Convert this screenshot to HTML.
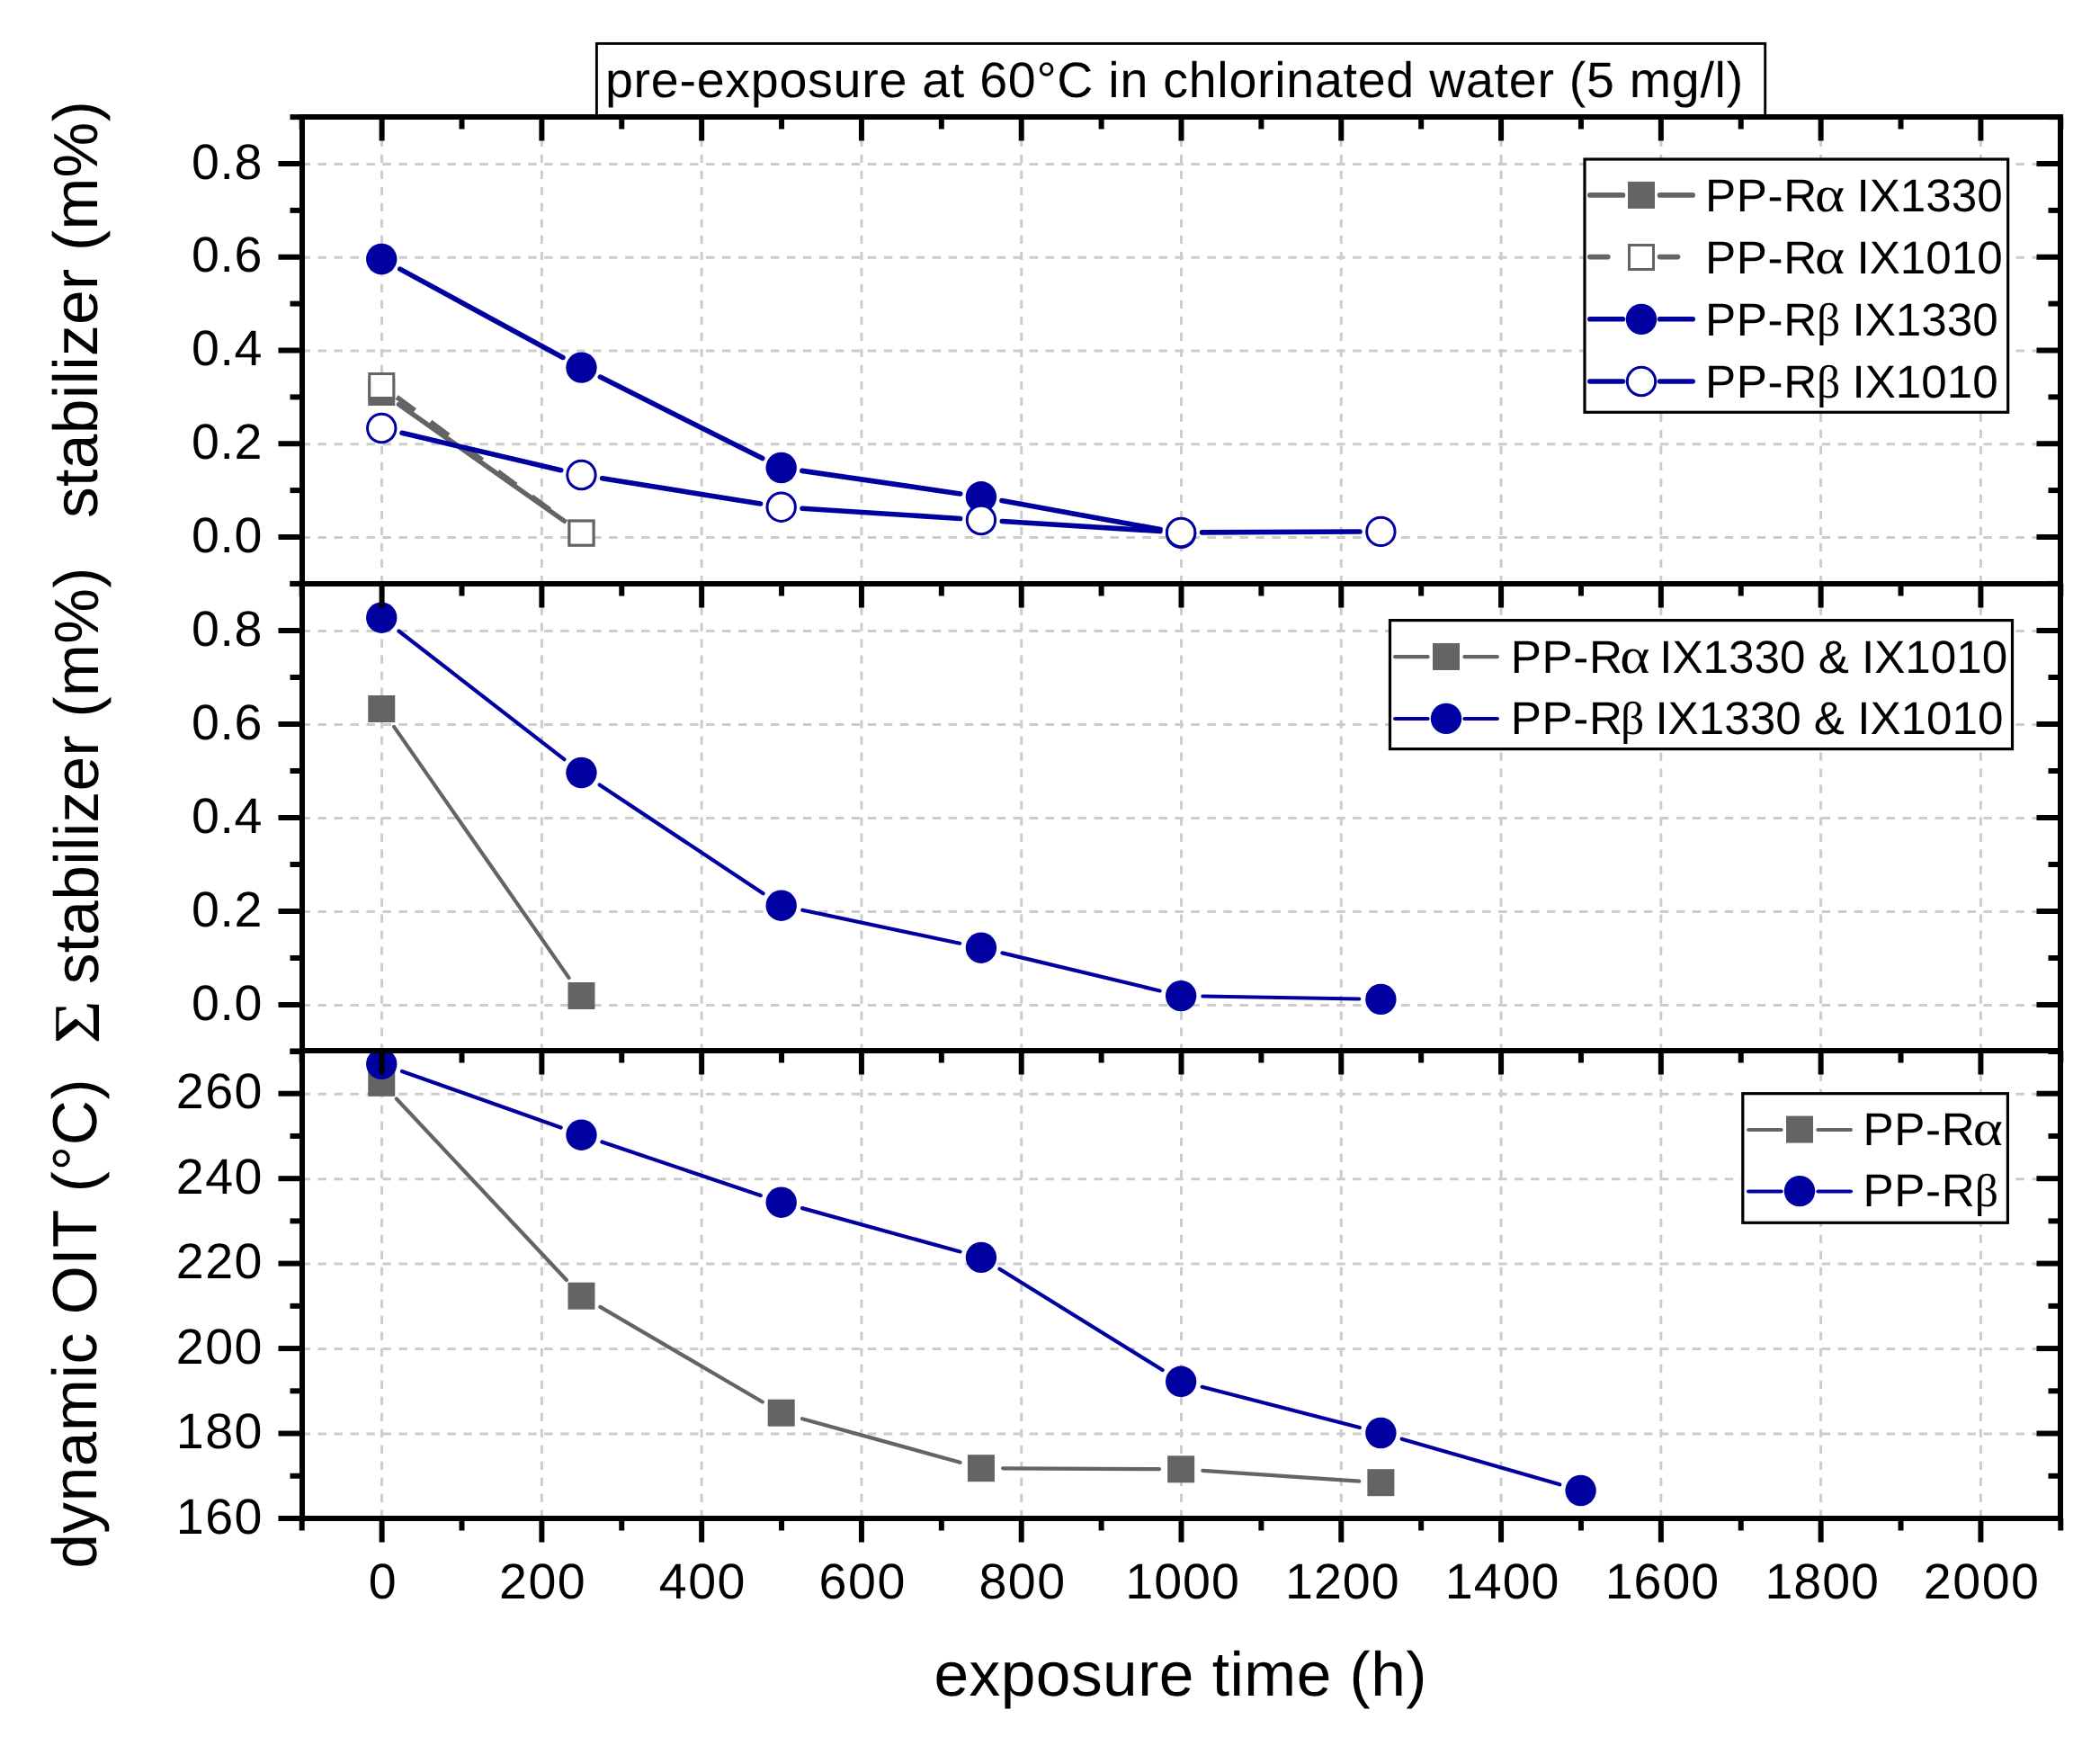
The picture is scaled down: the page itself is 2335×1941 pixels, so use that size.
<!DOCTYPE html>
<html lang="en"><head><meta charset="utf-8"><title>pre-exposure at 60°C in chlorinated water</title>
<style>html,body{margin:0;padding:0;background:#fff}body{width:2335px;height:1941px;overflow:hidden}svg{display:block}</style>
</head><body>
<svg width="2335" height="1941" viewBox="0 0 2335 1941" style="display:block" text-rendering="geometricPrecision">
<rect width="2335" height="1941" fill="#fff"/>
<g stroke="#cccccc" stroke-width="3" fill="none"><path d="M424.6 649V130" stroke-dasharray="9.2 8.8"/><path d="M602.38 649V130" stroke-dasharray="9.2 8.8"/><path d="M780.16 649V130" stroke-dasharray="9.2 8.8"/><path d="M957.94 649V130" stroke-dasharray="9.2 8.8"/><path d="M1135.72 649V130" stroke-dasharray="9.2 8.8"/><path d="M1313.5 649V130" stroke-dasharray="9.2 8.8"/><path d="M1491.28 649V130" stroke-dasharray="9.2 8.8"/><path d="M1669.06 649V130" stroke-dasharray="9.2 8.8"/><path d="M1846.84 649V130" stroke-dasharray="9.2 8.8"/><path d="M2024.62 649V130" stroke-dasharray="9.2 8.8"/><path d="M2202.4 649V130" stroke-dasharray="9.2 8.8"/><path d="M335.5 597.5H2291" stroke-dasharray="9.5 8.48"/><path d="M335.5 493.75H2291" stroke-dasharray="9.5 8.48"/><path d="M335.5 390H2291" stroke-dasharray="9.5 8.48"/><path d="M335.5 286.25H2291" stroke-dasharray="9.5 8.48"/><path d="M335.5 182.5H2291" stroke-dasharray="9.5 8.48"/></g>
<g stroke="#646464" stroke-width="5.4" stroke-linecap="round" fill="none"><path d="M443.38 449.48L627.35 579.12"/></g>
<rect x="409.25" y="421" width="30" height="30" fill="#646464"/><rect x="631.48" y="577.6" width="30" height="30" fill="#646464"/>
<g stroke="#646464" stroke-width="5.6" stroke-linecap="butt" fill="none" stroke-dasharray="25 21.6"><path d="M441.16 441.45L629.56 580.15"/></g>
<rect x="410.75" y="415.5" width="27" height="27" fill="#fff" stroke="#646464" stroke-width="3"/><rect x="632.98" y="579.1" width="27" height="27" fill="#fff" stroke="#646464" stroke-width="3"/>
<g stroke="#0000a0" stroke-width="5.6" stroke-linecap="round" fill="none"><path d="M444.82 299.16L625.91 397.44"/><path d="M667.39 419.09L847.78 509.51"/><path d="M891.86 523.37L1067.77 548.93"/><path d="M1113.95 556.5L1290.13 588.6"/></g>
<circle cx="424.25" cy="288" r="17.2" fill="#0000a0"/><circle cx="646.48" cy="408.6" r="17.2" fill="#0000a0"/><circle cx="868.7" cy="520" r="17.2" fill="#0000a0"/><circle cx="1090.93" cy="552.3" r="17.2" fill="#0000a0"/><circle cx="1313.15" cy="592.8" r="17.2" fill="#0000a0"/>
<g stroke="#0000a0" stroke-width="5.6" stroke-linecap="round" fill="none"><path d="M447.03 481.33L623.69 522.67"/><path d="M669.58 531.71L845.6 559.99"/><path d="M892.05 565.2L1067.57 576.5"/><path d="M1114.28 579.47L1289.8 590.53"/><path d="M1336.55 591.88L1511.98 591.02"/></g>
<circle cx="424.25" cy="476" r="15.7" fill="#fff" stroke="#0000a0" stroke-width="3"/><circle cx="646.48" cy="528" r="15.7" fill="#fff" stroke="#0000a0" stroke-width="3"/><circle cx="868.7" cy="563.7" r="15.7" fill="#fff" stroke="#0000a0" stroke-width="3"/><circle cx="1090.93" cy="578" r="15.7" fill="#fff" stroke="#0000a0" stroke-width="3"/><circle cx="1313.15" cy="592" r="15.7" fill="#fff" stroke="#0000a0" stroke-width="3"/><circle cx="1535.38" cy="590.9" r="15.7" fill="#fff" stroke="#0000a0" stroke-width="3"/>
<g stroke="#cccccc" stroke-width="3" fill="none"><path d="M424.6 1169.7V649" stroke-dasharray="9.2 8.8"/><path d="M602.38 1169.7V649" stroke-dasharray="9.2 8.8"/><path d="M780.16 1169.7V649" stroke-dasharray="9.2 8.8"/><path d="M957.94 1169.7V649" stroke-dasharray="9.2 8.8"/><path d="M1135.72 1169.7V649" stroke-dasharray="9.2 8.8"/><path d="M1313.5 1169.7V649" stroke-dasharray="9.2 8.8"/><path d="M1491.28 1169.7V649" stroke-dasharray="9.2 8.8"/><path d="M1669.06 1169.7V649" stroke-dasharray="9.2 8.8"/><path d="M1846.84 1169.7V649" stroke-dasharray="9.2 8.8"/><path d="M2024.62 1169.7V649" stroke-dasharray="9.2 8.8"/><path d="M2202.4 1169.7V649" stroke-dasharray="9.2 8.8"/><path d="M335.5 1117.5H2291" stroke-dasharray="9.5 8.48"/><path d="M335.5 1013.5H2291" stroke-dasharray="9.5 8.48"/><path d="M335.5 909.5H2291" stroke-dasharray="9.5 8.48"/><path d="M335.5 805.5H2291" stroke-dasharray="9.5 8.48"/><path d="M335.5 701.5H2291" stroke-dasharray="9.5 8.48"/></g>
<g stroke="#646464" stroke-width="4.2" stroke-linecap="round" fill="none"><path d="M438.08 807.86L632.64 1087.14"/></g>
<rect x="409.25" y="773" width="30" height="30" fill="#646464"/><rect x="631.48" y="1092" width="30" height="30" fill="#646464"/>
<g stroke="#0000a0" stroke-width="4.2" stroke-linecap="round" fill="none"><path d="M443.37 701.53L627.35 844.17"/><path d="M666.63 872.4L848.55 993.3"/><path d="M892.38 1011.71L1067.25 1048.69"/><path d="M1114.46 1059.35L1289.62 1101.45"/><path d="M1337.35 1107.51L1511.18 1110.49"/></g>
<circle cx="424.25" cy="686.7" r="17.2" fill="#0000a0"/><circle cx="646.48" cy="859" r="17.2" fill="#0000a0"/><circle cx="868.7" cy="1006.7" r="17.2" fill="#0000a0"/><circle cx="1090.93" cy="1053.7" r="17.2" fill="#0000a0"/><circle cx="1313.15" cy="1107.1" r="17.2" fill="#0000a0"/><circle cx="1535.38" cy="1110.9" r="17.2" fill="#0000a0"/>
<g stroke="#cccccc" stroke-width="3" fill="none"><path d="M424.6 1688V1168" stroke-dasharray="9.2 8.8"/><path d="M602.38 1688V1168" stroke-dasharray="9.2 8.8"/><path d="M780.16 1688V1168" stroke-dasharray="9.2 8.8"/><path d="M957.94 1688V1168" stroke-dasharray="9.2 8.8"/><path d="M1135.72 1688V1168" stroke-dasharray="9.2 8.8"/><path d="M1313.5 1688V1168" stroke-dasharray="9.2 8.8"/><path d="M1491.28 1688V1168" stroke-dasharray="9.2 8.8"/><path d="M1669.06 1688V1168" stroke-dasharray="9.2 8.8"/><path d="M1846.84 1688V1168" stroke-dasharray="9.2 8.8"/><path d="M2024.62 1688V1168" stroke-dasharray="9.2 8.8"/><path d="M2202.4 1688V1168" stroke-dasharray="9.2 8.8"/><path d="M335.5 1594.04H2291" stroke-dasharray="9.5 8.48"/><path d="M335.5 1499.58H2291" stroke-dasharray="9.5 8.48"/><path d="M335.5 1405.12H2291" stroke-dasharray="9.5 8.48"/><path d="M335.5 1310.66H2291" stroke-dasharray="9.5 8.48"/><path d="M335.5 1216.2H2291" stroke-dasharray="9.5 8.48"/></g>
<g stroke="#646464" stroke-width="4.2" stroke-linecap="round" fill="none"><path d="M440.81 1221.45L629.92 1423.05"/><path d="M667.36 1452.92L847.81 1558.48"/><path d="M892.02 1577.15L1067.6 1625.75"/><path d="M1115.12 1632.32L1288.95 1633.18"/><path d="M1337.3 1634.92L1511.23 1646.58"/></g>
<rect x="409.25" y="1188.8" width="30" height="30" fill="#646464"/><rect x="631.48" y="1425.7" width="30" height="30" fill="#646464"/><rect x="853.7" y="1555.7" width="30" height="30" fill="#646464"/><rect x="1075.93" y="1617.2" width="30" height="30" fill="#646464"/><rect x="1298.15" y="1618.3" width="30" height="30" fill="#646464"/><rect x="1520.38" y="1633.2" width="30" height="30" fill="#646464"/>
<g stroke="#0000a0" stroke-width="4.2" stroke-linecap="round" fill="none"><path d="M447.06 1190.9L623.67 1253.6"/><path d="M669.4 1269.44L845.77 1328.96"/><path d="M892.03 1343.13L1067.59 1391.47"/><path d="M1111.49 1410.66L1292.59 1523.04"/><path d="M1336.59 1541.83L1511.94 1586.97"/><path d="M1558.63 1599.7L1734.35 1650.3"/></g>
<circle cx="424.25" cy="1182.8" r="17.2" fill="#0000a0"/><circle cx="646.48" cy="1261.7" r="17.2" fill="#0000a0"/><circle cx="868.7" cy="1336.7" r="17.2" fill="#0000a0"/><circle cx="1090.93" cy="1397.9" r="17.2" fill="#0000a0"/><circle cx="1313.15" cy="1535.8" r="17.2" fill="#0000a0"/><circle cx="1535.38" cy="1593" r="17.2" fill="#0000a0"/><circle cx="1757.6" cy="1657" r="17.2" fill="#0000a0"/>
<g stroke="#000" stroke-width="6" fill="none" stroke-linecap="butt"><path d="M333 130H2294"/><path d="M333 649H2294"/><path d="M336 130V649"/><path d="M2291 130V649"/><path d="M335.71 130v13.5"/><path d="M424.6 130v26.5"/><path d="M513.49 130v13.5"/><path d="M602.38 130v26.5"/><path d="M691.27 130v13.5"/><path d="M780.16 130v26.5"/><path d="M869.05 130v13.5"/><path d="M957.94 130v26.5"/><path d="M1046.83 130v13.5"/><path d="M1135.72 130v26.5"/><path d="M1224.61 130v13.5"/><path d="M1313.5 130v26.5"/><path d="M1402.39 130v13.5"/><path d="M1491.28 130v26.5"/><path d="M1580.17 130v13.5"/><path d="M1669.06 130v26.5"/><path d="M1757.95 130v13.5"/><path d="M1846.84 130v26.5"/><path d="M1935.73 130v13.5"/><path d="M2024.62 130v26.5"/><path d="M2113.51 130v13.5"/><path d="M2202.4 130v26.5"/><path d="M2291.29 130v13.5"/><path d="M336 597h-26.5"/><path d="M2291 597h-26.5"/><path d="M336 493.25h-26.5"/><path d="M2291 493.25h-26.5"/><path d="M336 389.5h-26.5"/><path d="M2291 389.5h-26.5"/><path d="M336 285.75h-26.5"/><path d="M2291 285.75h-26.5"/><path d="M336 182h-26.5"/><path d="M2291 182h-26.5"/><path d="M336 648.88h-13.5"/><path d="M2291 648.88h-13.5"/><path d="M336 545.12h-13.5"/><path d="M2291 545.12h-13.5"/><path d="M336 441.38h-13.5"/><path d="M2291 441.38h-13.5"/><path d="M336 337.62h-13.5"/><path d="M2291 337.62h-13.5"/><path d="M336 233.88h-13.5"/><path d="M2291 233.88h-13.5"/><path d="M336 130.12h-13.5"/><path d="M2291 130.12h-13.5"/></g>
<g stroke="#000" stroke-width="6" fill="none" stroke-linecap="butt"><path d="M333 649H2294"/><path d="M333 1168H2294"/><path d="M336 649V1168"/><path d="M2291 649V1168"/><path d="M335.71 649v13.5"/><path d="M424.6 649v26.5"/><path d="M513.49 649v13.5"/><path d="M602.38 649v26.5"/><path d="M691.27 649v13.5"/><path d="M780.16 649v26.5"/><path d="M869.05 649v13.5"/><path d="M957.94 649v26.5"/><path d="M1046.83 649v13.5"/><path d="M1135.72 649v26.5"/><path d="M1224.61 649v13.5"/><path d="M1313.5 649v26.5"/><path d="M1402.39 649v13.5"/><path d="M1491.28 649v26.5"/><path d="M1580.17 649v13.5"/><path d="M1669.06 649v26.5"/><path d="M1757.95 649v13.5"/><path d="M1846.84 649v26.5"/><path d="M1935.73 649v13.5"/><path d="M2024.62 649v26.5"/><path d="M2113.51 649v13.5"/><path d="M2202.4 649v26.5"/><path d="M2291.29 649v13.5"/><path d="M336 1117h-26.5"/><path d="M2291 1117h-26.5"/><path d="M336 1013h-26.5"/><path d="M2291 1013h-26.5"/><path d="M336 909h-26.5"/><path d="M2291 909h-26.5"/><path d="M336 805h-26.5"/><path d="M2291 805h-26.5"/><path d="M336 701h-26.5"/><path d="M2291 701h-26.5"/><path d="M336 1169h-13.5"/><path d="M2291 1169h-13.5"/><path d="M336 1065h-13.5"/><path d="M2291 1065h-13.5"/><path d="M336 961h-13.5"/><path d="M2291 961h-13.5"/><path d="M336 857h-13.5"/><path d="M2291 857h-13.5"/><path d="M336 753h-13.5"/><path d="M2291 753h-13.5"/><path d="M336 649h-13.5"/><path d="M2291 649h-13.5"/></g>
<g stroke="#000" stroke-width="6" fill="none" stroke-linecap="butt"><path d="M333 1168H2294"/><path d="M333 1688H2294"/><path d="M336 1168V1688"/><path d="M2291 1168V1688"/><path d="M335.71 1168v13.5"/><path d="M335.71 1688v13.5"/><path d="M424.6 1168v26.5"/><path d="M424.6 1688v26.5"/><path d="M513.49 1168v13.5"/><path d="M513.49 1688v13.5"/><path d="M602.38 1168v26.5"/><path d="M602.38 1688v26.5"/><path d="M691.27 1168v13.5"/><path d="M691.27 1688v13.5"/><path d="M780.16 1168v26.5"/><path d="M780.16 1688v26.5"/><path d="M869.05 1168v13.5"/><path d="M869.05 1688v13.5"/><path d="M957.94 1168v26.5"/><path d="M957.94 1688v26.5"/><path d="M1046.83 1168v13.5"/><path d="M1046.83 1688v13.5"/><path d="M1135.72 1168v26.5"/><path d="M1135.72 1688v26.5"/><path d="M1224.61 1168v13.5"/><path d="M1224.61 1688v13.5"/><path d="M1313.5 1168v26.5"/><path d="M1313.5 1688v26.5"/><path d="M1402.39 1168v13.5"/><path d="M1402.39 1688v13.5"/><path d="M1491.28 1168v26.5"/><path d="M1491.28 1688v26.5"/><path d="M1580.17 1168v13.5"/><path d="M1580.17 1688v13.5"/><path d="M1669.06 1168v26.5"/><path d="M1669.06 1688v26.5"/><path d="M1757.95 1168v13.5"/><path d="M1757.95 1688v13.5"/><path d="M1846.84 1168v26.5"/><path d="M1846.84 1688v26.5"/><path d="M1935.73 1168v13.5"/><path d="M1935.73 1688v13.5"/><path d="M2024.62 1168v26.5"/><path d="M2024.62 1688v26.5"/><path d="M2113.51 1168v13.5"/><path d="M2113.51 1688v13.5"/><path d="M2202.4 1168v26.5"/><path d="M2202.4 1688v26.5"/><path d="M2291.29 1168v13.5"/><path d="M2291.29 1688v13.5"/><path d="M336 1688h-26.5"/><path d="M2291 1688h-26.5"/><path d="M336 1593.54h-26.5"/><path d="M2291 1593.54h-26.5"/><path d="M336 1499.08h-26.5"/><path d="M2291 1499.08h-26.5"/><path d="M336 1404.62h-26.5"/><path d="M2291 1404.62h-26.5"/><path d="M336 1310.16h-26.5"/><path d="M2291 1310.16h-26.5"/><path d="M336 1215.7h-26.5"/><path d="M2291 1215.7h-26.5"/><path d="M336 1640.77h-13.5"/><path d="M2291 1640.77h-13.5"/><path d="M336 1546.31h-13.5"/><path d="M2291 1546.31h-13.5"/><path d="M336 1451.85h-13.5"/><path d="M2291 1451.85h-13.5"/><path d="M336 1357.39h-13.5"/><path d="M2291 1357.39h-13.5"/><path d="M336 1262.93h-13.5"/><path d="M2291 1262.93h-13.5"/><path d="M336 1168.47h-13.5"/><path d="M2291 1168.47h-13.5"/></g>
<g fill="#000">
<text x="292.1" y="613.7" font-size="55.56" font-family="'Liberation Sans', sans-serif" text-anchor="end" letter-spacing="0.6">0.0</text>
<text x="292.1" y="509.95" font-size="55.56" font-family="'Liberation Sans', sans-serif" text-anchor="end" letter-spacing="0.6">0.2</text>
<text x="292.1" y="406.2" font-size="55.56" font-family="'Liberation Sans', sans-serif" text-anchor="end" letter-spacing="0.6">0.4</text>
<text x="292.1" y="302.45" font-size="55.56" font-family="'Liberation Sans', sans-serif" text-anchor="end" letter-spacing="0.6">0.6</text>
<text x="292.1" y="198.7" font-size="55.56" font-family="'Liberation Sans', sans-serif" text-anchor="end" letter-spacing="0.6">0.8</text>
<text x="292.1" y="1133.7" font-size="55.56" font-family="'Liberation Sans', sans-serif" text-anchor="end" letter-spacing="0.6">0.0</text>
<text x="292.1" y="1029.7" font-size="55.56" font-family="'Liberation Sans', sans-serif" text-anchor="end" letter-spacing="0.6">0.2</text>
<text x="292.1" y="925.7" font-size="55.56" font-family="'Liberation Sans', sans-serif" text-anchor="end" letter-spacing="0.6">0.4</text>
<text x="292.1" y="821.7" font-size="55.56" font-family="'Liberation Sans', sans-serif" text-anchor="end" letter-spacing="0.6">0.6</text>
<text x="292.1" y="717.7" font-size="55.56" font-family="'Liberation Sans', sans-serif" text-anchor="end" letter-spacing="0.6">0.8</text>
<text x="293" y="1704.7" font-size="55.56" font-family="'Liberation Sans', sans-serif" text-anchor="end" letter-spacing="1.5">160</text>
<text x="293" y="1610.24" font-size="55.56" font-family="'Liberation Sans', sans-serif" text-anchor="end" letter-spacing="1.5">180</text>
<text x="293" y="1515.78" font-size="55.56" font-family="'Liberation Sans', sans-serif" text-anchor="end" letter-spacing="1.5">200</text>
<text x="293" y="1421.32" font-size="55.56" font-family="'Liberation Sans', sans-serif" text-anchor="end" letter-spacing="1.5">220</text>
<text x="293" y="1326.86" font-size="55.56" font-family="'Liberation Sans', sans-serif" text-anchor="end" letter-spacing="1.5">240</text>
<text x="293" y="1232.4" font-size="55.56" font-family="'Liberation Sans', sans-serif" text-anchor="end" letter-spacing="1.5">260</text>
<text x="425.85" y="1776.8" font-size="55.56" font-family="'Liberation Sans', sans-serif" text-anchor="middle" letter-spacing="1.5">0</text>
<text x="603.63" y="1776.8" font-size="55.56" font-family="'Liberation Sans', sans-serif" text-anchor="middle" letter-spacing="1.5">200</text>
<text x="781.41" y="1776.8" font-size="55.56" font-family="'Liberation Sans', sans-serif" text-anchor="middle" letter-spacing="1.5">400</text>
<text x="959.19" y="1776.8" font-size="55.56" font-family="'Liberation Sans', sans-serif" text-anchor="middle" letter-spacing="1.5">600</text>
<text x="1136.97" y="1776.8" font-size="55.56" font-family="'Liberation Sans', sans-serif" text-anchor="middle" letter-spacing="1.5">800</text>
<text x="1315.1" y="1776.8" font-size="55.56" font-family="'Liberation Sans', sans-serif" text-anchor="middle" letter-spacing="1.0">1000</text>
<text x="1492.88" y="1776.8" font-size="55.56" font-family="'Liberation Sans', sans-serif" text-anchor="middle" letter-spacing="1.0">1200</text>
<text x="1670.66" y="1776.8" font-size="55.56" font-family="'Liberation Sans', sans-serif" text-anchor="middle" letter-spacing="1.0">1400</text>
<text x="1848.44" y="1776.8" font-size="55.56" font-family="'Liberation Sans', sans-serif" text-anchor="middle" letter-spacing="1.0">1600</text>
<text x="2026.22" y="1776.8" font-size="55.56" font-family="'Liberation Sans', sans-serif" text-anchor="middle" letter-spacing="1.0">1800</text>
<text x="2203.65" y="1776.8" font-size="55.56" font-family="'Liberation Sans', sans-serif" text-anchor="middle" letter-spacing="1.5">2000</text>
</g>
<text x="1312.64" y="1885" font-size="69.44" font-family="'Liberation Sans', sans-serif" text-anchor="middle" letter-spacing="0.48">exposure time (h)</text>
<text transform="translate(108 343.9) rotate(-90)" font-size="69.44" font-family="'Liberation Sans', sans-serif" text-anchor="middle" letter-spacing="0.33">stabilizer (m%)</text>
<text transform="translate(109.7 1160.6) rotate(-90) scale(1.14 1)" font-size="72.91" font-family="'Liberation Serif', serif">Σ</text>
<text transform="translate(108.9 1094.3) rotate(-90)" font-size="69.44" font-family="'Liberation Sans', sans-serif" letter-spacing="0.33">stabilizer (m%)</text>
<text transform="translate(107.3 1471.3) rotate(-90)" font-size="69.44" font-family="'Liberation Sans', sans-serif" text-anchor="middle" letter-spacing="0.58">dynamic OIT (°C)</text>
<rect x="663.4" y="48.4" width="1299.3" height="81.6" fill="#fff" stroke="#000" stroke-width="2.9"/>
<path d="M333 130H2294" stroke="#000" stroke-width="6"/>
<text x="673" y="107.6" font-size="55.56" font-family="'Liberation Sans', sans-serif" text-anchor="start" letter-spacing="0.73">pre-exposure at 60°C in chlorinated water (5 mg/l)</text>
<rect x="1762" y="177" width="470.7" height="281.3" fill="#fff" stroke="#000" stroke-width="3.2"/>
<g stroke="#646464" stroke-width="5.6" stroke-linecap="round"><path d="M1767.8 216.9H1804.5"/><path d="M1845.5 216.9H1882.2"/></g>
<rect x="1810" y="201.9" width="30" height="30" fill="#646464"/>
<g stroke="#646464" stroke-width="5.6" stroke-linecap="round"><path d="M1767.8 285.6h20"/><path d="M1845.5 285.6h20"/></g>
<rect x="1811.5" y="272.5" width="27" height="27" fill="#fff" stroke="#646464" stroke-width="3"/>
<g stroke="#0000a0" stroke-width="5.6" stroke-linecap="round"><path d="M1767.8 354.7H1804.5"/><path d="M1845.5 354.7H1882.2"/></g>
<circle cx="1825" cy="354.9" r="17.2" fill="#0000a0"/>
<g stroke="#0000a0" stroke-width="5.6" stroke-linecap="round"><path d="M1767.8 424H1804.5"/><path d="M1845.5 424H1882.2"/></g>
<circle cx="1825" cy="424" r="15.7" fill="#fff" stroke="#0000a0" stroke-width="3"/>
<text x="1896" y="234.8" font-size="51.2" font-family="'Liberation Sans', sans-serif" text-anchor="start" letter-spacing="0.62">PP-R</text><text transform="translate(2018 234.8) scale(1.125 1)" font-size="56.2" font-family="'Liberation Serif', serif">α</text><text x="2050.27" y="234.8" font-size="51.2" font-family="'Liberation Sans', sans-serif" text-anchor="start" style="white-space:pre"> IX1330</text>
<text x="1896" y="303.8" font-size="51.2" font-family="'Liberation Sans', sans-serif" text-anchor="start" letter-spacing="0.62">PP-R</text><text transform="translate(2018 303.8) scale(1.125 1)" font-size="56.2" font-family="'Liberation Serif', serif">α</text><text x="2050.27" y="303.8" font-size="51.2" font-family="'Liberation Sans', sans-serif" text-anchor="start" style="white-space:pre"> IX1010</text>
<text x="1896" y="372.8" font-size="51.2" font-family="'Liberation Sans', sans-serif" text-anchor="start" letter-spacing="0.62">PP-R</text><text x="2020" y="372.8" font-size="51.6" font-family="'Liberation Serif', serif" text-anchor="start">β</text><text x="2045.27" y="372.8" font-size="51.2" font-family="'Liberation Sans', sans-serif" text-anchor="start" style="white-space:pre"> IX1330</text>
<text x="1896" y="441.8" font-size="51.2" font-family="'Liberation Sans', sans-serif" text-anchor="start" letter-spacing="0.62">PP-R</text><text x="2020" y="441.8" font-size="51.6" font-family="'Liberation Serif', serif" text-anchor="start">β</text><text x="2045.27" y="441.8" font-size="51.2" font-family="'Liberation Sans', sans-serif" text-anchor="start" style="white-space:pre"> IX1010</text>
<rect x="1545.5" y="689.6" width="692" height="143" fill="#fff" stroke="#000" stroke-width="3.2"/>
<g stroke="#646464" stroke-width="4.2" stroke-linecap="round"><path d="M1551.1 730.1H1587.6"/><path d="M1628.4 730.1H1664.9"/></g>
<rect x="1593" y="715" width="30" height="30" fill="#646464"/>
<g stroke="#0000a0" stroke-width="4.2" stroke-linecap="round"><path d="M1551.1 799H1587.6"/><path d="M1628.4 799H1664.9"/></g>
<circle cx="1608" cy="798.9" r="17.2" fill="#0000a0"/>
<text x="1679.8" y="748.1" font-size="51.2" font-family="'Liberation Sans', sans-serif" text-anchor="start" letter-spacing="0.62">PP-R</text><text transform="translate(1801.2 748.1) scale(1.125 1)" font-size="56.2" font-family="'Liberation Serif', serif">α</text><text x="1830.97" y="748.1" font-size="51.2" font-family="'Liberation Sans', sans-serif" text-anchor="start" style="white-space:pre"> IX1330 &amp; IX1010</text>
<text x="1679.8" y="815.8" font-size="51.2" font-family="'Liberation Sans', sans-serif" text-anchor="start" letter-spacing="0.62">PP-R</text><text x="1802" y="815.8" font-size="51.6" font-family="'Liberation Serif', serif" text-anchor="start">β</text><text x="1826.17" y="815.8" font-size="51.2" font-family="'Liberation Sans', sans-serif" text-anchor="start" style="white-space:pre"> IX1330 &amp; IX1010</text>
<rect x="1937.8" y="1215.7" width="294.6" height="143.6" fill="#fff" stroke="#000" stroke-width="3.2"/>
<g stroke="#646464" stroke-width="4.2" stroke-linecap="round"><path d="M1944.1 1256H1980.6"/><path d="M2021.4 1256H2057.9"/></g>
<rect x="1986" y="1240.6" width="30" height="30" fill="#646464"/>
<g stroke="#0000a0" stroke-width="4.2" stroke-linecap="round"><path d="M1944.1 1324.5H1980.6"/><path d="M2021.4 1324.5H2057.9"/></g>
<circle cx="2001" cy="1324.1" r="17.2" fill="#0000a0"/>
<text x="2071.6" y="1272.9" font-size="51.2" font-family="'Liberation Sans', sans-serif" text-anchor="start" letter-spacing="0.62">PP-R</text><text transform="translate(2193.8 1272.9) scale(1.125 1)" font-size="56.2" font-family="'Liberation Serif', serif">α</text>
<text x="2071.6" y="1341.4" font-size="51.2" font-family="'Liberation Sans', sans-serif" text-anchor="start" letter-spacing="0.62">PP-R</text><text x="2195.8" y="1341.4" font-size="51.6" font-family="'Liberation Serif', serif" text-anchor="start">β</text>
</svg>
</body></html>
